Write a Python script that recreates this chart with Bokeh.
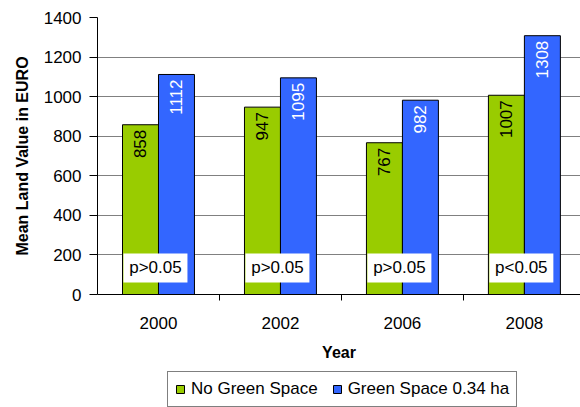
import numpy as np
from bokeh.plotting import figure
from bokeh.layouts import column
from bokeh.models import Range1d, FixedTicker, Legend, LegendItem
from bokeh.embed import file_html
from bokeh.resources import INLINE
from bokeh.core.properties import value

# ---- data ----
years = ["2000", "2002", "2006", "2008"]
no_green = [858, 947, 767, 1007]
green_034 = [1112, 1095, 982, 1308]
p_labels = ["p>0.05", "p>0.05", "p>0.05", "p<0.05"]
y_ticks = [0, 200, 400, 600, 800, 1000, 1200, 1400]
series_names = ["No Green Space", "Green Space 0.34 ha"]

FONT = "Liberation Sans"
GREEN = "#99CC00"
BLUE = "#3366FF"

W = 580
p = figure(width=W, height=365, output_backend="svg", toolbar_location=None,
           x_range=Range1d(0, 3.96), y_range=Range1d(0, 1400),
           min_border_left=97, min_border_right=0, min_border_top=17,
           min_border_bottom=71)
p.outline_line_color = None
p.background_fill_color = "white"

centers = np.arange(len(years)) + 0.5
bw = 0.295
xg = centers - bw / 2
xb = centers + bw / 2

r1 = p.vbar(x=xg, top=no_green, width=bw, fill_color=GREEN, line_color="black", line_width=1)
r2 = p.vbar(x=xb, top=green_034, width=bw, fill_color=BLUE, line_color="black", line_width=1)

p.text(x=xg, y=no_green, text=[str(v) for v in no_green], angle=np.pi / 2,
       text_align="right", text_baseline="middle", y_offset=5,
       text_font=value(FONT), text_font_size="17px", text_color="black")
p.text(x=xb, y=green_034, text=[str(v) for v in green_034], angle=np.pi / 2,
       text_align="right", text_baseline="middle", y_offset=5,
       text_font=value(FONT), text_font_size="17px", text_color="white")

# p-value boxes
p.rect(x=centers - 0.025, y=134, width=0.525, height=147, fill_color="white",
       line_color=None)
p.text(x=centers - 0.025, y=134, text=p_labels, text_align="center",
       text_baseline="middle", text_font=value(FONT), text_font_size="17px",
       text_color="black")

# axes
p.xgrid.visible = False
p.ygrid.grid_line_color = "#808080"
p.ygrid.grid_line_width = 1

p.yaxis.ticker = FixedTicker(ticks=y_ticks)
p.yaxis.major_tick_out = 8
p.yaxis.major_tick_in = 0
p.yaxis.minor_tick_out = 0
p.yaxis.minor_tick_in = 0
p.yaxis.axis_line_color = "black"
p.yaxis.major_tick_line_color = "black"
p.yaxis.major_label_standoff = 8
p.yaxis.major_label_text_font = FONT
p.yaxis.major_label_text_font_size = "17px"
p.yaxis.major_label_text_color = "black"
p.yaxis.axis_label = "Mean Land Value in EURO"
p.yaxis.axis_label_text_font = FONT
p.yaxis.axis_label_text_font_size = "16px"
p.yaxis.axis_label_text_font_style = "bold"
p.yaxis.axis_label_text_color = "black"
p.yaxis.axis_label_standoff = 10

p.xaxis.ticker = FixedTicker(ticks=list(centers), minor_ticks=[1, 2, 3])
p.xaxis.major_label_overrides = {float(c): y for c, y in zip(centers, years)}
p.xaxis.major_tick_out = 0
p.xaxis.major_tick_in = 0
p.xaxis.minor_tick_out = 6
p.xaxis.minor_tick_in = 0
p.xaxis.minor_tick_line_color = "black"
p.xaxis.axis_line_color = "black"
p.xaxis.major_label_standoff = 16
p.xaxis.major_label_text_font = FONT
p.xaxis.major_label_text_font_size = "17px"
p.xaxis.major_label_text_color = "black"
p.xaxis.axis_label = "Year"
p.xaxis.axis_label_text_font = FONT
p.xaxis.axis_label_text_font_size = "16px"
p.xaxis.axis_label_text_font_style = "bold"
p.xaxis.axis_label_text_color = "black"
p.xaxis.axis_label_standoff = 12

# legend strip: a small figure whose view shows none of the bars,
# only the legend built from the same series and styles
pl = figure(width=W, height=42, output_backend="svg", toolbar_location=None,
            x_axis_location=None, y_axis_location=None,
            x_range=Range1d(0, 3.96), y_range=Range1d(5000, 5001),
            min_border=0, min_border_left=0, min_border_right=0,
            min_border_top=0, min_border_bottom=0)
pl.outline_line_color = None
pl.xgrid.visible = False
pl.ygrid.visible = False
l1 = pl.vbar(x=xg, top=no_green, width=bw, fill_color=GREEN, line_color="black", line_width=1)
l2 = pl.vbar(x=xb, top=green_034, width=bw, fill_color=BLUE, line_color="black", line_width=1)

legend = Legend(items=[LegendItem(label=series_names[0], renderers=[l1]),
                       LegendItem(label=series_names[1], renderers=[l2])],
                orientation="horizontal", location=(70, 0))
legend.border_line_color = "black"
legend.border_line_width = 1
legend.background_fill_color = "white"
legend.background_fill_alpha = 1
legend.padding = 7
legend.spacing = 14
legend.margin = 0
legend.label_standoff = 6
legend.glyph_width = 10
legend.glyph_height = 10
legend.label_text_font = FONT
legend.label_text_font_size = "17px"
legend.label_text_color = "black"
pl.add_layout(legend)

layout = column(p, pl, spacing=0)
open("out.html", "w").write(file_html(layout, INLINE))
